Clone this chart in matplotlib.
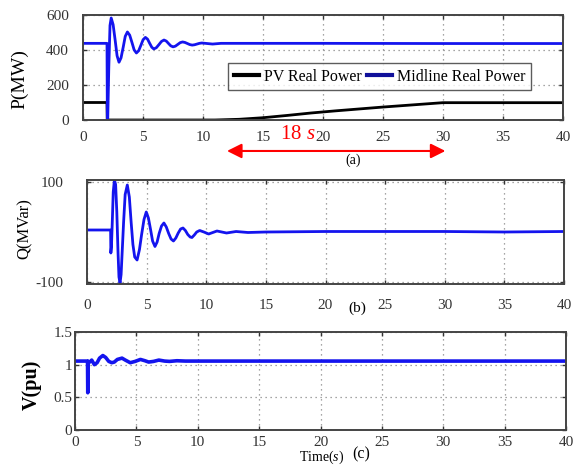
import matplotlib
matplotlib.use('Agg')
import matplotlib.pyplot as plt

plt.rcParams['font.family'] = ['Liberation Serif', 'DejaVu Serif']
plt.rcParams['mathtext.fontset'] = 'custom'
plt.rcParams['mathtext.rm'] = 'Liberation Serif'
plt.rcParams['mathtext.it'] = 'Liberation Serif:italic'
plt.rcParams['axes.unicode_minus'] = False

# (a) real power, MW
mid_t = [0, 2.0, 2.03, 2.06, 2.15, 2.25, 2.35, 2.51, 2.68, 2.84, 3.0, 3.17, 3.35, 3.52, 3.7,
         3.89, 4.08, 4.26, 4.45, 4.64, 4.83, 5.01, 5.2, 5.38, 5.55, 5.73, 5.9, 6.11, 6.33,
         6.54, 6.75, 6.94, 7.13, 7.31, 7.5, 7.7, 7.9, 8.1, 8.3, 8.5, 8.7, 8.9, 9.1, 9.3,
         9.5, 9.7, 9.9, 10.35, 10.8, 11.5, 20, 30, 40]
mid_p = [438, 438, 0, 0, 300, 540, 583, 545, 456, 367, 330, 355, 416, 478, 503,
         485, 443, 401, 383, 396, 428, 459, 472, 462, 439, 416, 406, 413, 431,
         449, 457, 451, 437, 424, 418, 422, 432, 442, 446, 443, 437, 431, 428, 430,
         434, 438, 440, 437, 434, 438, 438, 437, 437]
pv_t = [0, 2.0, 2.02, 11, 13, 15, 17, 19, 21, 23, 25, 27, 29, 30, 40]
pv_p = [100, 100, 0, 0, 4, 13, 26, 40, 52, 63, 74, 84, 94, 99, 99]

# (b) reactive power, MVar
q_t = [0, 1.98, 2.0, 2.05, 2.12, 2.2, 2.3, 2.4, 2.5, 2.6, 2.68, 2.77, 2.86, 2.95, 3.07,
       3.2, 3.38, 3.55, 3.7, 3.85, 4.0, 4.2, 4.4, 4.58, 4.78, 4.97, 5.15, 5.33, 5.5,
       5.7, 5.88, 6.05, 6.25, 6.45, 6.65, 6.85, 7.05, 7.25, 7.45, 7.65, 7.85, 8.05,
       8.25, 8.45, 8.65, 8.8, 9.0, 9.2, 9.45, 9.8, 10.2, 10.55, 10.9, 11.3, 11.7,
       12.5, 13.5, 15, 20, 25, 30, 35, 40]
q_v = [4, 4, -42, -30, 20, 80, 104, 95, 40, -40, -90, -102, -85, -40, 20,
       75, 94, 70, 20, -25, -50, -56, -35, -5, 25, 40, 28, 5, -18,
       -29, -20, -3, 12, 18, 10, -3, -14, -18, -12, -2, 6, 8,
       3, -5, -10, -11, -6, 0, 3, 0, -4, -1, 2, 0, -2,
       1, -1, 0, 1, 1, 1, 0, 1]

# (c) voltage, pu
v_t = [0, 1.02, 1.04, 1.07, 1.2, 1.36, 1.58, 1.8, 2.0, 2.27, 2.5, 2.75, 3.0, 3.2, 3.45,
       3.83, 4.1, 4.5, 4.9, 5.33, 5.7, 6.0, 6.4, 6.83, 7.3, 7.7, 8.3, 9, 40]
v_v = [1.055, 1.055, 0.57, 1.05, 1.04, 1.07, 1.0, 1.03, 1.1, 1.14, 1.11, 1.05, 1.03, 1.04, 1.08,
       1.1, 1.07, 1.03, 1.05, 1.08, 1.06, 1.04, 1.05, 1.07, 1.055, 1.05, 1.06, 1.055, 1.055]

xticks = [0, 5, 10, 15, 20, 25, 30, 35, 40]
blue = '#1414ee'
W, H = 574, 466


def px_axes(left, top, right, bottom):
    return fig.add_axes([left / W, 1 - bottom / H, (right - left) / W, (bottom - top) / H])


def style(ax, xpad, ypad):
    ax.set_xlim(0, 40)
    ax.set_xticks(xticks)
    ax.grid(True, color='#888888', linestyle=(0, (1, 3)), linewidth=0.9)
    ax.tick_params(direction='in', top=True, right=True, labelsize=11,
                   colors='#333333', length=3, width=1)
    ax.tick_params(axis='x', pad=xpad)
    ax.tick_params(axis='y', pad=ypad)
    for s in ax.spines.values():
        s.set_color('#444444')
        s.set_linewidth(1.4)


fig = plt.figure(figsize=(W / 100, H / 100), dpi=100)

# panel (a)
ax1 = px_axes(83, 15, 563, 120)
ax1.plot(pv_t, pv_p, color='black', lw=2, label='PV Real Power')
ax1.plot(mid_t, mid_p, color=blue, lw=2, label='Midline Real Power')
ax1.set_ylim(0, 600)
ax1.set_yticks([0, 200, 400, 600])
style(ax1, 8, 10)
leg = ax1.legend(loc='center', bbox_to_anchor=(0.618, 0.414), ncol=2, fontsize=11.5,
                 handlelength=1.6, columnspacing=0.3, handletextpad=0.3,
                 fancybox=False, edgecolor='#333333', borderpad=0.35)
leg.get_frame().set_linewidth(1.0)
for ln in leg.get_lines():
    ln.set_linewidth(3)
leg.get_lines()[1].set_color('#10109a')
fig.text(20 / W, 1 - 79 / H, 'P(MW)', rotation=90, fontsize=14, ha='center', va='center')

# 18 s arrow under panel (a)
tr = ax1.get_xaxis_transform()
ax1.annotate('', xy=(12.0, -0.295), xytext=(30.2, -0.295), xycoords=tr, textcoords=tr,
             arrowprops=dict(arrowstyle='<|-|>', color='red', lw=1.5,
                             mutation_scale=22, shrinkA=0, shrinkB=0), annotation_clip=False)
ax1.text(17.9, -0.14, '18 $s$', transform=tr, color='red', fontsize=15,
         ha='center', va='center', clip_on=False)
fig.text(353 / W, 1 - 160 / H, '(a)', fontsize=10, ha='center', va='center')

# panel (b)
ax2 = px_axes(87, 180, 564, 284)
ax2.plot(q_t, q_v, color=blue, lw=2)
ax2.set_ylim(-104, 104)
ax2.set_yticks([-100, 100])
style(ax2, 11, 17)
fig.text(25 / W, 1 - 229 / H, 'Q(MVar)', rotation=90, fontsize=12, ha='center', va='center')
fig.text(357 / W, 1 - 308 / H, '(b)', fontsize=11, ha='center', va='center')

# panel (c)
ax3 = px_axes(75, 332, 566, 430)
ax3.plot(v_t, v_v, color=blue, lw=2.6)
ax3.set_ylim(0, 1.5)
ax3.set_yticks([0, 0.5, 1, 1.5])
ax3.set_yticklabels(['0', '0.5', '1', '1.5'])
style(ax3, 4, 2)
fig.text(32 / W, 1 - 385 / H, 'V(pu)', rotation=90, fontsize=14.5, fontweight='bold',
         ha='center', va='center')
fig.text(322 / W, 1 - 457 / H, 'Time($s$)', fontsize=10, ha='center', va='center')
fig.text(361 / W, 1 - 454 / H, '(c)', fontsize=11.5, ha='center', va='center')

fig.savefig('out.png', dpi=100)
